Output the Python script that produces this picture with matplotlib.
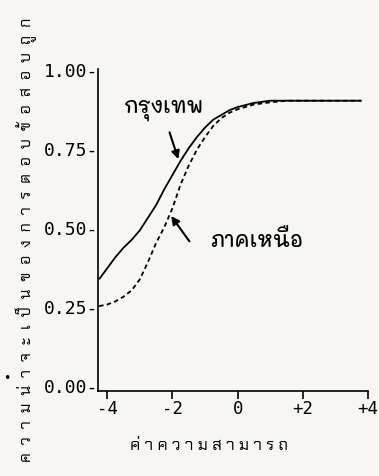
import matplotlib
matplotlib.use("Agg")
import matplotlib.pyplot as plt

# ---- data ----
theta = [-4.25, -4.0, -3.75, -3.5, -3.25, -3.0, -2.75, -2.5, -2.25, -2.0, -1.75, -1.5,
         -1.25, -1.0, -0.75, -0.5, -0.25, 0.0, 0.5, 1.0, 1.5, 2.0, 2.5, 3.0, 3.5, 3.8]
bangkok = [0.335, 0.37, 0.405, 0.435, 0.46, 0.49, 0.53, 0.57, 0.62, 0.665, 0.71, 0.75,
           0.785, 0.815, 0.84, 0.855, 0.87, 0.88, 0.893, 0.90, 0.90, 0.90, 0.90, 0.90, 0.90, 0.90]
north = [0.25, 0.255, 0.265, 0.28, 0.30, 0.335, 0.39, 0.45, 0.50, 0.56, 0.635, 0.695,
         0.745, 0.785, 0.82, 0.845, 0.862, 0.873, 0.888, 0.895, 0.90, 0.90, 0.90, 0.90, 0.90, 0.90]
yticks = [0.0, 0.25, 0.50, 0.75, 1.00]
ytick_labels = ["0.00", "0.25", "0.50", "0.75", "1.00"]
xticks = [-4, -2, 0, 2, 4]
xtick_labels = ["-4", "-2", "0", "+2", "+4"]
xlabel = "ค่าความสามารถ"
ylabel = "ความน่าจะเป็นของการตอบข้อสอบถูก"
label_bkk = "กรุงเทพ"
label_north = "ภาคเหนือ"

MARKS = set([0x0E31] + list(range(0x0E34, 0x0E3B)) + list(range(0x0E47, 0x0E4F)))


def spaced(s, sep=" "):
    out = []
    for ch in s:
        if out and ord(ch) in MARKS:
            out[-1] += ch
        else:
            out.append(ch)
    return sep.join(out)


mono = ["DejaVu Sans Mono", "Noto Sans Thai"]
thai = ["Chakra Petch", "Noto Sans Thai", "DejaVu Sans"]
hand = ["Mali", "Itim", "DejaVu Sans"]
paper = "#f7f6f2"

fig = plt.figure(figsize=(3.79, 4.77), dpi=100, facecolor=paper)
ax = fig.add_axes([0.259, 0.178, 0.712, 0.675])
ax.set_facecolor(paper)

ax.plot(theta, bangkok, color="black", lw=1.3, solid_capstyle="butt")
ax.plot(theta, north, color="black", lw=1.3, linestyle=(0, (2.5, 1.8)))

ax.set_xlim(-4.28, 4.0)
ax.set_ylim(-0.019, 1.0)
for s in ["top", "right"]:
    ax.spines[s].set_visible(False)
ax.spines["left"].set_linewidth(1.2)
ax.spines["bottom"].set_linewidth(1.2)

ax.set_yticks(yticks)
ax.set_yticklabels([t + "-" for t in ytick_labels], family=mono, fontsize=13)
ax.tick_params(axis="y", length=0, pad=0)
ax.set_xticks(xticks)
ax.set_xticklabels(xtick_labels, family=mono, fontsize=12.5)
ax.tick_params(axis="x", direction="out", length=6, width=1.2, pad=0)

fig.text(0.552, 0.065, spaced(xlabel), family=thai, fontsize=12,
         ha="center", va="center")
fig.text(0.068, 0.497, spaced(ylabel, "  "), family=thai, fontsize=11.5,
         rotation=90, ha="center", va="center")
fig.text(0.018, 0.207, "•", fontsize=9, ha="center", va="center")

ax.text(-2.25, 0.875, label_bkk, family=hand, fontsize=15, fontweight="medium",
        ha="center", va="center")
ax.annotate("", xy=(-1.82, 0.715), xytext=(-2.09, 0.80),
            arrowprops=dict(arrowstyle="-|>", color="black", lw=1.5,
                            shrinkA=0, shrinkB=0, mutation_scale=12))
ax.text(0.58, 0.46, label_north, family=hand, fontsize=15, fontweight="medium",
        ha="center", va="center")
ax.annotate("", xy=(-2.04, 0.535), xytext=(-1.48, 0.455),
            arrowprops=dict(arrowstyle="-|>", color="black", lw=1.5,
                            shrinkA=0, shrinkB=0, mutation_scale=12))

fig.savefig("out.png", dpi=100, facecolor=fig.get_facecolor())
